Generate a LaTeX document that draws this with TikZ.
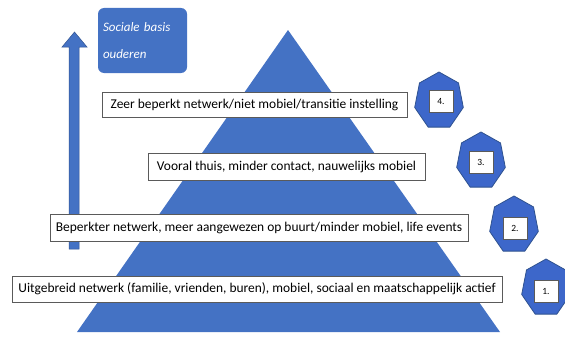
\documentclass[tikz,border=0pt]{standalone}
\usepackage{fontspec}
\setmainfont{Carlito}
\usepackage{tikz}
\usetikzlibrary{shapes,positioning}
\usepackage{xcolor}
\definecolor{pyblue}{RGB}{68,114,196}
\definecolor{pydark}{RGB}{47,82,143}
\definecolor{pygray}{RGB}{90,90,90}
\tikzstyle{level} = [rectangle, draw=pygray, fill=white, line width=0.6bp, inner sep=0pt, font=\fontsize{13.5}{15}\selectfont, text centered]
\tikzstyle{hepta} = [regular polygon, regular polygon sides=7, minimum size=58bp, inner sep=0pt, fill=pyblue!90!blue, draw=pydark, line width=0.8bp, xscale=0.86, transform shape]
\tikzstyle{numbox} = [rectangle, draw=pygray, fill=white, line width=0.5bp, minimum width=24bp, minimum height=22bp, inner sep=0pt, font=\fontsize{9.5}{10}\selectfont]

\begin{document}
\begin{tikzpicture}[x=1bp, y=1bp]
\useasboundingbox (0,0) rectangle (565,355);

% Pyramid
\fill[pyblue] (77,23) -- (288,325) -- (500,23) -- cycle;

% Arrow upwards
\filldraw[fill=pyblue, draw=pydark, line width=0.5bp] (69,106) -- (69,308) -- (62,308) -- (74.5,323) -- (87,308) -- (79,308) -- (79,106) -- cycle;

% Title box
\node[rectangle, rounded corners=6bp, fill=pyblue, text=white, minimum height=65bp, text width=79bp, inner sep=5bp, align=left, font=\fontsize{13}{28}\itshape\selectfont] (basis) at (142.5,314.5) {Sociale basis\\ouderen};

% Levels
\node[level, minimum width=305bp, minimum height=25bp] (lvlfour) at (254.5,250.5) {Zeer beperkt netwerk/niet mobiel/transitie instelling};
\node[level, minimum width=277bp, minimum height=27bp] (lvlthree) at (286.5,188.5) {Vooral thuis, minder contact, nauwelijks mobiel};
\node[level, minimum width=418bp, minimum height=27bp] (lvltwo) at (259,127.5) {Beperkter netwerk, meer aangewezen op buurt/minder mobiel, life events};
\node[level, minimum width=490bp, minimum height=26bp] (lvlone) at (257,66) {Uitgebreid netwerk (familie, vrienden, buren), mobiel, sociaal en maatschappelijk actief};

% Numbers
\node[hepta] (hfour) at (439,254) {};
\node[hepta] (hthree) at (481,194) {};
\node[hepta] (htwo) at (514,130) {};
\node[hepta] (hone) at (546,67) {};
\node[numbox] (nfour) at (441,254) {4.};
\node[numbox] (nthree) at (481,193) {3.};
\node[numbox] (ntwo) at (515,127) {2.};
\node[numbox] (none) at (546,64) {1.};
\end{tikzpicture}
\end{document}
